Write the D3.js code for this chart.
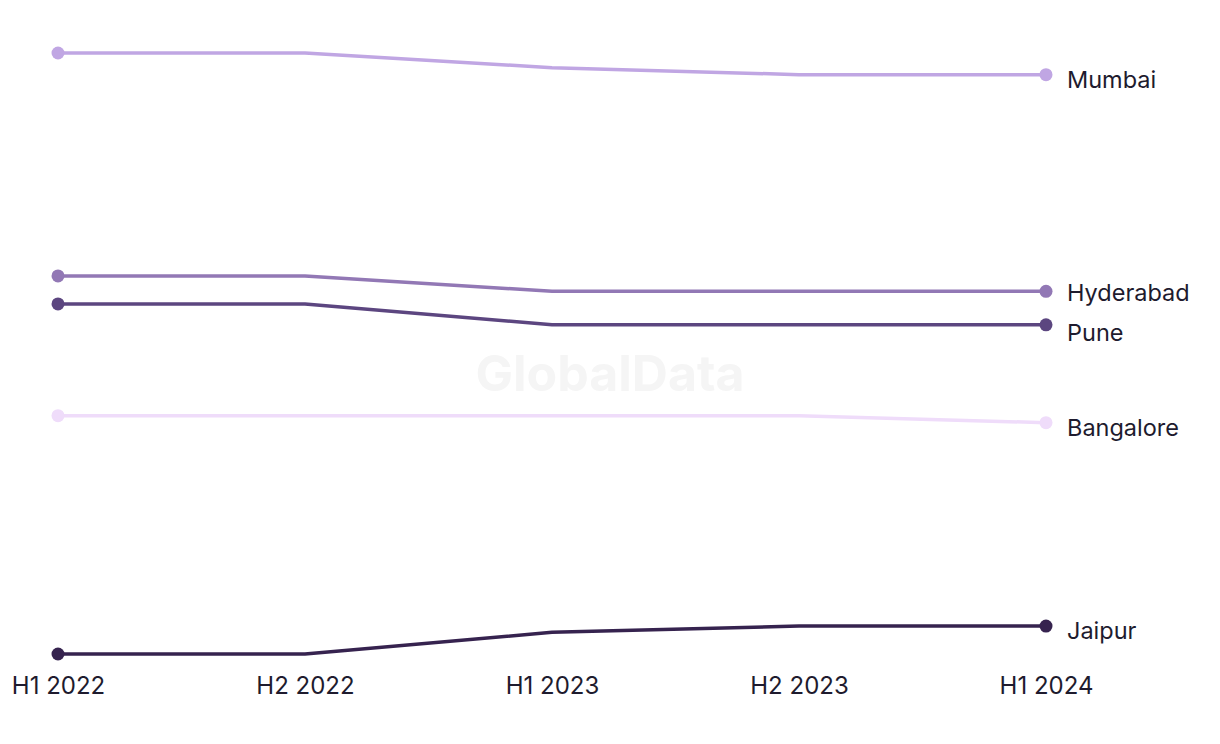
<!DOCTYPE html>
<html>
<head>
<meta charset="utf-8">
<script src="https://cdn.jsdelivr.net/npm/d3@7"></script>
<style>
  html, body { margin: 0; padding: 0; background: #ffffff; }
  svg { display: block; }
</style>
</head>
<body>
<svg id="chart" width="1220" height="744"></svg>
<script>
const periods = ["H1 2022", "H2 2022", "H1 2023", "H2 2023", "H1 2024"];
const cities = ["Mumbai", "Hyderabad", "Pune", "Bangalore", "Jaipur"];
const mumbai    = [96.0, 96.0, 93.9, 92.9, 92.9];
const hyderabad = [64.1, 64.1, 61.9, 61.9, 61.9];
const pune      = [60.1, 60.1, 57.1, 57.1, 57.1];
const bangalore = [44.1, 44.1, 44.1, 44.1, 43.1];
const jaipur    = [10.0, 10.0, 13.1, 14.0, 14.0];
const colors = ["#c0a6e3", "#9278b5", "#5c4680", "#efdcfa", "#36234f"];

const seriesValues = [mumbai, hyderabad, pune, bangalore, jaipur];
const series = cities.map((c, i) => ({ name: c, values: seriesValues[i], color: colors[i] }));

const svg = d3.select("#chart");
const textColor = "#1e1b2e";
const font = "Inter, 'Noto Sans', sans-serif";

const x = d3.scalePoint().domain(periods).range([58, 1046]);
const y = d3.scaleLinear().domain([10, 96]).range([654, 53]);

// watermark
svg.append("text")
  .attr("x", 610).attr("y", 373)
  .attr("text-anchor", "middle")
  .attr("dominant-baseline", "central")
  .attr("font-family", font)
  .attr("font-weight", 700)
  .attr("font-size", 50)
  .attr("fill", "#f5f5f5")
  .text("GlobalData");

// x axis
const xAxis = d3.axisBottom(x).tickSize(0).tickPadding(0);
const gx = svg.append("g").attr("transform", "translate(0,686)").call(xAxis);
gx.select(".domain").remove();
gx.selectAll("text")
  .attr("font-family", font)
  .attr("font-size", 24)
  .attr("fill", textColor)
  .attr("dy", "0.35em")
  .attr("y", 0);

const line = d3.line()
  .x((d, i) => x(periods[i]))
  .y(d => y(d));

const g = svg.append("g");
series.forEach(s => {
  g.append("path")
    .attr("d", line(s.values))
    .attr("fill", "none")
    .attr("stroke", s.color)
    .attr("stroke-width", 3.5)
    .attr("stroke-linejoin", "round");
  [0, s.values.length - 1].forEach(i => {
    g.append("circle")
      .attr("cx", x(periods[i]))
      .attr("cy", y(s.values[i]))
      .attr("r", 6.5)
      .attr("fill", s.color);
  });
});

// end labels with simple collision avoidance
const labels = series.map(s => ({ name: s.name, y: y(s.values[s.values.length - 1]) + 5 }));
labels.sort((a, b) => a.y - b.y);
const minGap = 40;
for (let iter = 0; iter < 50; iter++) {
  for (let i = 1; i < labels.length; i++) {
    const d = labels[i].y - labels[i - 1].y;
    if (d < minGap) {
      const shift = (minGap - d) / 2;
      labels[i].y += shift;
      labels[i - 1].y -= shift;
    }
  }
}
labels.forEach(l => {
  svg.append("text")
    .attr("x", 1067)
    .attr("y", l.y)
    .attr("dy", "0.35em")
    .attr("font-family", font)
    .attr("font-size", 23.5)
    .attr("fill", textColor)
    .text(l.name);
});
</script>
</body>
</html>
